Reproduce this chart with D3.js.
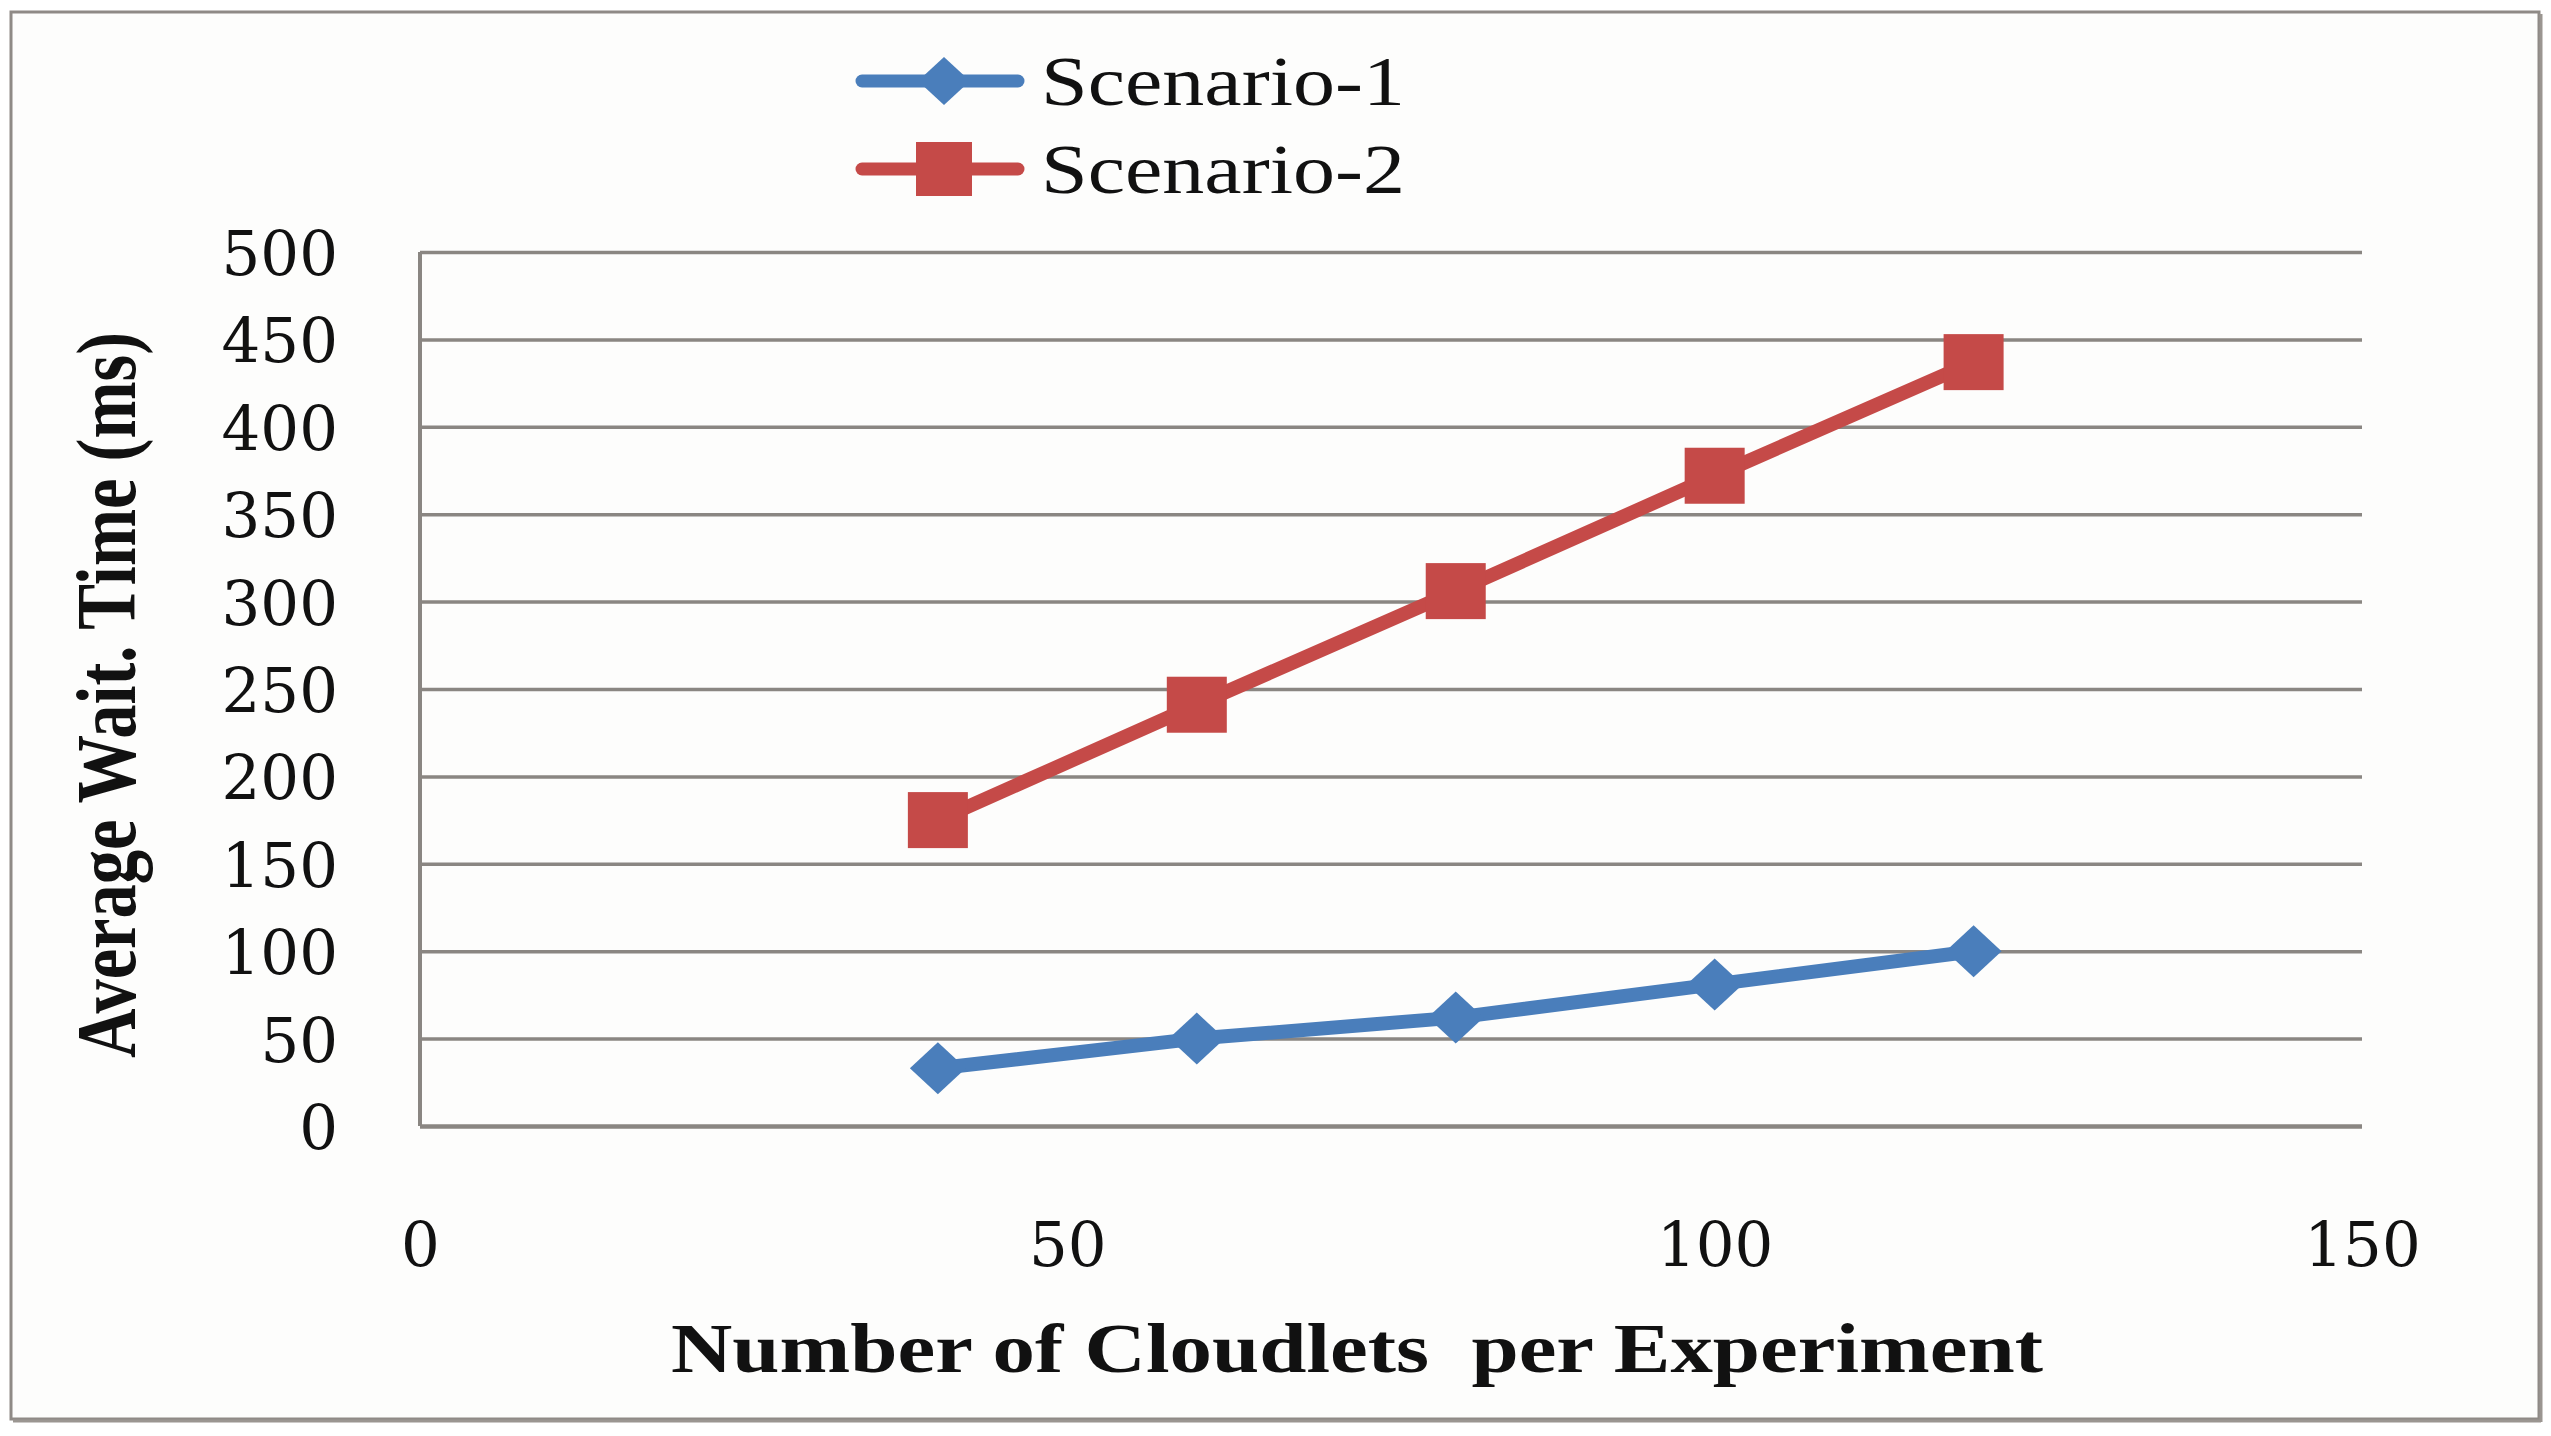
<!DOCTYPE html>
<html>
<head>
<meta charset="utf-8">
<script src="https://cdn.jsdelivr.net/npm/d3@7"></script>
<style>
  html, body { margin: 0; padding: 0; background: #ffffff; }
  svg { display: block; }
  text { white-space: pre; }
</style>
</head>
<body>
<svg id="chart" width="2551" height="1436"></svg>
<script>
// ---- data ----
const cloudlets = [40, 60, 80, 100, 120];
const scenario1 = [33, 50, 62, 81, 100];
const scenario2 = [175, 241, 306, 372, 437];
const seriesNames = ["Scenario-1", "Scenario-2"];
const yTicks = [0, 50, 100, 150, 200, 250, 300, 350, 400, 450, 500];
const xTicks = [0, 50, 100, 150];
const yTitle = "Average Wait. Time (ms)";
const xTitle = "Number of Cloudlets  per Experiment";

// ---- layout ----
const W = 2551, H = 1436;
const plot = { left: 420, right: 2362, top: 252, bottom: 1126 };
const colors = { s1: "#4a7ebb", s2: "#c54a48", grid: "#8a8682" };

const svg = d3.select("#chart");

// background
svg.append("rect").attr("x", 0).attr("y", 0).attr("width", W).attr("height", H).attr("fill", "#ffffff");
svg.append("rect").attr("x", 11).attr("y", 12).attr("width", 2528).attr("height", 1407)
  .attr("fill", "#fdfdfc").attr("stroke", "#8f8a86").attr("stroke-width", 3);
// shadow on right / bottom
svg.append("line").attr("x1", 2541).attr("y1", 14).attr("x2", 2541).attr("y2", 1422)
  .attr("stroke", "#9b9691").attr("stroke-width", 3);
svg.append("line").attr("x1", 13).attr("y1", 1421).attr("x2", 2541).attr("y2", 1421)
  .attr("stroke", "#9b9691").attr("stroke-width", 3);

const x = d3.scaleLinear().domain([0, 150]).range([plot.left, plot.right]);
const y = d3.scaleLinear().domain([0, 500]).range([plot.bottom, plot.top]);

// gridlines
const grid = svg.append("g").attr("transform", `translate(${plot.left},0)`)
  .call(d3.axisLeft(y).tickValues(yTicks).tickSize(-(plot.right - plot.left)).tickFormat(""));
grid.select(".domain").remove();
grid.selectAll(".tick line").attr("stroke", colors.grid).attr("stroke-width", 3.5);
grid.selectAll(".tick").filter(d => d === 0).select("line").attr("stroke-width", 4.5);

// vertical axis line
svg.append("line").attr("x1", plot.left).attr("x2", plot.left)
  .attr("y1", plot.top).attr("y2", plot.bottom)
  .attr("stroke", colors.grid).attr("stroke-width", 4);

// y tick labels
const yAxis = svg.append("g").attr("transform", `translate(338,0)`)
  .call(d3.axisLeft(y).tickValues(yTicks).tickSize(0).tickPadding(0));
yAxis.select(".domain").remove();
yAxis.selectAll("text")
  .attr("font-family", "'DejaVu Serif', serif")
  .attr("font-size", 61)
  .attr("fill", "#111")
  .attr("dy", "0.37em");

// x tick labels
const xAxis = svg.append("g").attr("transform", `translate(0,1266)`)
  .call(d3.axisBottom(x).tickValues(xTicks).tickSize(0).tickPadding(0));
xAxis.select(".domain").remove();
xAxis.selectAll("text")
  .attr("font-family", "'DejaVu Serif', serif")
  .attr("font-size", 61)
  .attr("fill", "#111")
  .attr("dy", 0);

// axis titles
svg.append("text")
  .attr("transform", "translate(135,695) rotate(-90)")
  .attr("text-anchor", "middle")
  .attr("font-family", "'Liberation Serif', serif")
  .attr("font-weight", "bold")
  .attr("font-size", 84)
  .attr("textLength", 726)
  .attr("lengthAdjust", "spacingAndGlyphs")
  .attr("fill", "#111")
  .text(yTitle);

svg.append("text")
  .attr("x", 1357).attr("y", 1372)
  .attr("text-anchor", "middle")
  .attr("font-family", "'Liberation Serif', serif")
  .attr("font-weight", "bold")
  .attr("font-size", 70)
  .attr("textLength", 1372)
  .attr("lengthAdjust", "spacingAndGlyphs")
  .attr("fill", "#111")
  .text(xTitle);

// lines
const line = d3.line().x(d => x(d[0])).y(d => y(d[1]));
const s1 = cloudlets.map((c, i) => [c, scenario1[i]]);
const s2 = cloudlets.map((c, i) => [c, scenario2[i]]);

svg.append("path").datum(s1).attr("d", line).attr("fill", "none")
  .attr("stroke", colors.s1).attr("stroke-width", 14).attr("stroke-linejoin", "round");
svg.append("path").datum(s2).attr("d", line).attr("fill", "none")
  .attr("stroke", colors.s2).attr("stroke-width", 14).attr("stroke-linejoin", "round");

const diamond = (cx, cy, w, h) => `M${cx},${cy - h / 2}L${cx + w / 2},${cy}L${cx},${cy + h / 2}L${cx - w / 2},${cy}Z`;

svg.append("g").selectAll("path").data(s1).join("path")
  .attr("d", d => diamond(x(d[0]), y(d[1]), 56, 52))
  .attr("fill", colors.s1);

svg.append("g").selectAll("rect").data(s2).join("rect")
  .attr("x", d => x(d[0]) - 30).attr("y", d => y(d[1]) - 28)
  .attr("width", 60).attr("height", 56)
  .attr("fill", colors.s2);

// legend
const legend = svg.append("g");
const legendRows = [
  { name: seriesNames[0], color: colors.s1, y: 81, marker: "diamond" },
  { name: seriesNames[1], color: colors.s2, y: 169, marker: "square" }
];
legendRows.forEach(r => {
  legend.append("line").attr("x1", 862).attr("x2", 1018).attr("y1", r.y).attr("y2", r.y)
    .attr("stroke", r.color).attr("stroke-width", 13).attr("stroke-linecap", "round");
  if (r.marker === "diamond") {
    legend.append("path").attr("d", diamond(944, r.y, 52, 48)).attr("fill", r.color);
  } else {
    legend.append("rect").attr("x", 916).attr("y", r.y - 27).attr("width", 56).attr("height", 54).attr("fill", r.color);
  }
  legend.append("text").attr("x", 1041).attr("y", r.y + 24)
    .attr("font-family", "'Liberation Serif', serif")
    .attr("font-size", 70)
    .attr("textLength", 364)
    .attr("lengthAdjust", "spacingAndGlyphs")
    .attr("fill", "#111")
    .text(r.name);
});
</script>
</body>
</html>
